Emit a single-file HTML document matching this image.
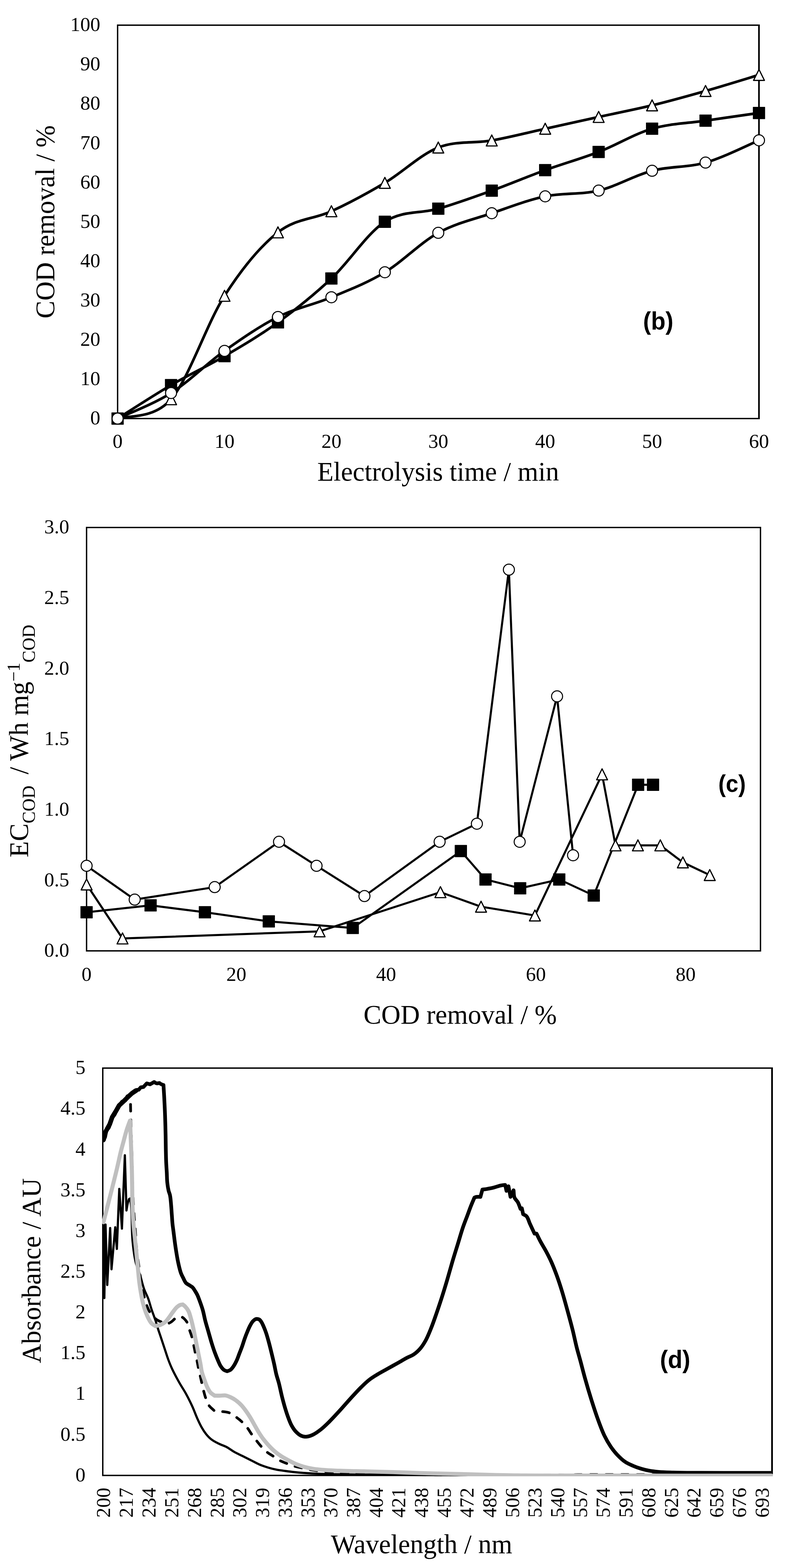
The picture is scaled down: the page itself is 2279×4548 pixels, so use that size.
<!DOCTYPE html>
<html lang="en">
<head>
<meta charset="utf-8">
<title>COD removal, energy consumption and UV-vis spectra</title>
<style>
html,body{margin:0;padding:0;background:#fff;}
body{width:2279px;height:4548px;overflow:hidden;}
svg{display:block;}
text{fill:#000;}
</style>
</head>
<body>
<svg width="2279" height="4548" viewBox="0 0 2279 4548">
<rect x="0" y="0" width="2279" height="4548" fill="#fff"/>
<g id="chart-b">
<rect x="341" y="73" width="1859.7" height="1141" fill="none" stroke="#000" stroke-width="4"/>
<rect x="2198.3" y="71" width="4.7" height="1145" fill="#000"/>
<text x="290.8" y="1231.2" font-family='"Liberation Serif", "DejaVu Serif", serif' font-size="58" font-weight="normal" text-anchor="end" >0</text>
<text x="290.8" y="1117.1" font-family='"Liberation Serif", "DejaVu Serif", serif' font-size="58" font-weight="normal" text-anchor="end" >10</text>
<text x="290.8" y="1003" font-family='"Liberation Serif", "DejaVu Serif", serif' font-size="58" font-weight="normal" text-anchor="end" >20</text>
<text x="290.8" y="888.9" font-family='"Liberation Serif", "DejaVu Serif", serif' font-size="58" font-weight="normal" text-anchor="end" >30</text>
<text x="290.8" y="774.8" font-family='"Liberation Serif", "DejaVu Serif", serif' font-size="58" font-weight="normal" text-anchor="end" >40</text>
<text x="290.8" y="660.7" font-family='"Liberation Serif", "DejaVu Serif", serif' font-size="58" font-weight="normal" text-anchor="end" >50</text>
<text x="290.8" y="546.6" font-family='"Liberation Serif", "DejaVu Serif", serif' font-size="58" font-weight="normal" text-anchor="end" >60</text>
<text x="290.8" y="432.5" font-family='"Liberation Serif", "DejaVu Serif", serif' font-size="58" font-weight="normal" text-anchor="end" >70</text>
<text x="290.8" y="318.4" font-family='"Liberation Serif", "DejaVu Serif", serif' font-size="58" font-weight="normal" text-anchor="end" >80</text>
<text x="290.8" y="204.3" font-family='"Liberation Serif", "DejaVu Serif", serif' font-size="58" font-weight="normal" text-anchor="end" >90</text>
<text x="290.8" y="90.2" font-family='"Liberation Serif", "DejaVu Serif", serif' font-size="58" font-weight="normal" text-anchor="end" >100</text>
<text x="341" y="1299.2" font-family='"Liberation Serif", "DejaVu Serif", serif' font-size="58" font-weight="normal" text-anchor="middle" >0</text>
<text x="651" y="1299.2" font-family='"Liberation Serif", "DejaVu Serif", serif' font-size="58" font-weight="normal" text-anchor="middle" >10</text>
<text x="960.9" y="1299.2" font-family='"Liberation Serif", "DejaVu Serif", serif' font-size="58" font-weight="normal" text-anchor="middle" >20</text>
<text x="1270.8" y="1299.2" font-family='"Liberation Serif", "DejaVu Serif", serif' font-size="58" font-weight="normal" text-anchor="middle" >30</text>
<text x="1580.8" y="1299.2" font-family='"Liberation Serif", "DejaVu Serif", serif' font-size="58" font-weight="normal" text-anchor="middle" >40</text>
<text x="1890.7" y="1299.2" font-family='"Liberation Serif", "DejaVu Serif", serif' font-size="58" font-weight="normal" text-anchor="middle" >50</text>
<text x="2200.7" y="1299.2" font-family='"Liberation Serif", "DejaVu Serif", serif' font-size="58" font-weight="normal" text-anchor="middle" >60</text>
<text x="0" y="0" font-family='"Liberation Serif", "DejaVu Serif", serif' font-size="77.3" font-weight="normal" text-anchor="middle" transform="translate(157 643.5) rotate(-90)">COD removal / %</text>
<text x="1270.4" y="1394" font-family='"Liberation Serif", "DejaVu Serif", serif' font-size="77.2" font-weight="normal" text-anchor="middle" >Electrolysis time / min</text>
<text transform="translate(1908.5 956.2) scale(0.96 1)" font-family='"Liberation Sans", "DejaVu Sans", sans-serif' font-size="72" font-weight="bold" text-anchor="middle">(b)</text>
<path d="M341 1214C366.8 1204.7 444.3 1217.3 496 1158C547.6 1098.7 599.3 938.7 651 858C702.6 777.3 754.3 714.9 805.9 674C857.6 633.1 909.2 636.6 960.9 612.7C1012.6 588.8 1064.2 561.2 1115.9 530.4C1167.5 499.6 1219.2 448.4 1270.8 427.9C1322.5 407.4 1374.2 416.6 1425.8 407.5C1477.5 398.4 1529.1 384.8 1580.8 373.4C1632.5 362 1684.1 350.5 1735.8 339.2C1787.4 327.9 1839.1 318.2 1890.7 305.6C1942.4 293.1 1994.1 278.6 2045.7 263.9C2097.4 249.2 2174.9 225.1 2200.7 217.3" fill="none" stroke="#000" stroke-width="7.7" stroke-linejoin="round" stroke-linecap="round"/>
<path d="M341 1198.1L356.8 1229.9L325.2 1229.9Z" fill="#fff" stroke="#000" stroke-width="3.4" stroke-linejoin="round"/>
<path d="M496 1142.1L511.8 1173.9L480.2 1173.9Z" fill="#fff" stroke="#000" stroke-width="3.4" stroke-linejoin="round"/>
<path d="M651 842.1L666.8 873.9L635.2 873.9Z" fill="#fff" stroke="#000" stroke-width="3.4" stroke-linejoin="round"/>
<path d="M805.9 658.1L821.7 689.9L790.1 689.9Z" fill="#fff" stroke="#000" stroke-width="3.4" stroke-linejoin="round"/>
<path d="M960.9 596.8L976.7 628.6L945.1 628.6Z" fill="#fff" stroke="#000" stroke-width="3.4" stroke-linejoin="round"/>
<path d="M1115.9 514.5L1131.7 546.3L1100.1 546.3Z" fill="#fff" stroke="#000" stroke-width="3.4" stroke-linejoin="round"/>
<path d="M1270.8 412L1286.6 443.8L1255 443.8Z" fill="#fff" stroke="#000" stroke-width="3.4" stroke-linejoin="round"/>
<path d="M1425.8 391.6L1441.6 423.4L1410 423.4Z" fill="#fff" stroke="#000" stroke-width="3.4" stroke-linejoin="round"/>
<path d="M1580.8 357.5L1596.6 389.3L1565 389.3Z" fill="#fff" stroke="#000" stroke-width="3.4" stroke-linejoin="round"/>
<path d="M1735.8 323.3L1751.6 355.1L1720 355.1Z" fill="#fff" stroke="#000" stroke-width="3.4" stroke-linejoin="round"/>
<path d="M1890.7 289.7L1906.5 321.5L1874.9 321.5Z" fill="#fff" stroke="#000" stroke-width="3.4" stroke-linejoin="round"/>
<path d="M2045.7 248L2061.5 279.8L2029.9 279.8Z" fill="#fff" stroke="#000" stroke-width="3.4" stroke-linejoin="round"/>
<path d="M2200.7 201.4L2216.5 233.2L2184.9 233.2Z" fill="#fff" stroke="#000" stroke-width="3.4" stroke-linejoin="round"/>
<path d="M341 1214C366.8 1197.8 444.3 1147.2 496 1117C547.6 1086.8 599.3 1063.3 651 1033C702.6 1002.7 754.3 972.5 805.9 935C857.6 897.5 909.2 856.5 960.9 807.9C1012.6 759.3 1064.2 677 1115.9 643.3C1167.5 609.5 1219.2 620.4 1270.8 605.4C1322.5 590.4 1374.2 571.6 1425.8 553C1477.5 534.4 1529.1 512.2 1580.8 493.5C1632.5 474.8 1684.1 460.7 1735.8 440.7C1787.4 420.7 1839.1 388.5 1890.7 373.4C1942.4 358.3 1994.1 357.6 2045.7 350C2097.4 342.4 2174.9 331.3 2200.7 327.6" fill="none" stroke="#000" stroke-width="7.7" stroke-linejoin="round" stroke-linecap="round"/>
<rect x="323.2" y="1196.2" width="35.5" height="35.5" rx="1" fill="#000"/>
<rect x="478.2" y="1099.2" width="35.5" height="35.5" rx="1" fill="#000"/>
<rect x="633.2" y="1015.2" width="35.5" height="35.5" rx="1" fill="#000"/>
<rect x="788.2" y="917.2" width="35.5" height="35.5" rx="1" fill="#000"/>
<rect x="943.1" y="790.1" width="35.5" height="35.5" rx="1" fill="#000"/>
<rect x="1098.1" y="625.5" width="35.5" height="35.5" rx="1" fill="#000"/>
<rect x="1253.1" y="587.6" width="35.5" height="35.5" rx="1" fill="#000"/>
<rect x="1408.1" y="535.2" width="35.5" height="35.5" rx="1" fill="#000"/>
<rect x="1563" y="475.8" width="35.5" height="35.5" rx="1" fill="#000"/>
<rect x="1718" y="422.9" width="35.5" height="35.5" rx="1" fill="#000"/>
<rect x="1873" y="355.6" width="35.5" height="35.5" rx="1" fill="#000"/>
<rect x="2028" y="332.2" width="35.5" height="35.5" rx="1" fill="#000"/>
<rect x="2182.9" y="309.9" width="35.5" height="35.5" rx="1" fill="#000"/>
<path d="M341 1214C366.8 1201.7 444.3 1172.7 496 1140C547.6 1107.3 599.3 1054.5 651 1017.7C702.6 980.9 754.3 945.3 805.9 919.4C857.6 893.5 909.2 883.8 960.9 862.2C1012.6 840.6 1064.2 820.9 1115.9 789.7C1167.5 758.6 1219.2 703.8 1270.8 675.3C1322.5 646.8 1374.2 636.1 1425.8 618.5C1477.5 600.9 1529.1 580.5 1580.8 569.5C1632.5 558.5 1684.1 565.2 1735.8 552.8C1787.4 540.4 1839.1 508.8 1890.7 495.3C1942.4 481.8 1994.1 486.3 2045.7 471.6C2097.4 456.9 2174.9 417.8 2200.7 407" fill="none" stroke="#000" stroke-width="7.7" stroke-linejoin="round" stroke-linecap="round"/>
<circle cx="341" cy="1214" r="16" fill="#fff" stroke="#000" stroke-width="3"/>
<circle cx="496" cy="1140" r="16" fill="#fff" stroke="#000" stroke-width="3"/>
<circle cx="651" cy="1017.7" r="16" fill="#fff" stroke="#000" stroke-width="3"/>
<circle cx="805.9" cy="919.4" r="16" fill="#fff" stroke="#000" stroke-width="3"/>
<circle cx="960.9" cy="862.2" r="16" fill="#fff" stroke="#000" stroke-width="3"/>
<circle cx="1115.9" cy="789.7" r="16" fill="#fff" stroke="#000" stroke-width="3"/>
<circle cx="1270.8" cy="675.3" r="16" fill="#fff" stroke="#000" stroke-width="3"/>
<circle cx="1425.8" cy="618.5" r="16" fill="#fff" stroke="#000" stroke-width="3"/>
<circle cx="1580.8" cy="569.5" r="16" fill="#fff" stroke="#000" stroke-width="3"/>
<circle cx="1735.8" cy="552.8" r="16" fill="#fff" stroke="#000" stroke-width="3"/>
<circle cx="1890.7" cy="495.3" r="16" fill="#fff" stroke="#000" stroke-width="3"/>
<circle cx="2045.7" cy="471.6" r="16" fill="#fff" stroke="#000" stroke-width="3"/>
<circle cx="2200.7" cy="407" r="16" fill="#fff" stroke="#000" stroke-width="3"/>
</g>
<g id="chart-c">
<rect x="251" y="1530" width="1954" height="1228" fill="none" stroke="#000" stroke-width="4"/>
<text x="200.8" y="2775.2" font-family='"Liberation Serif", "DejaVu Serif", serif' font-size="58" font-weight="normal" text-anchor="end" >0.0</text>
<text x="200.8" y="2570.5" font-family='"Liberation Serif", "DejaVu Serif", serif' font-size="58" font-weight="normal" text-anchor="end" >0.5</text>
<text x="200.8" y="2365.9" font-family='"Liberation Serif", "DejaVu Serif", serif' font-size="58" font-weight="normal" text-anchor="end" >1.0</text>
<text x="200.8" y="2161.2" font-family='"Liberation Serif", "DejaVu Serif", serif' font-size="58" font-weight="normal" text-anchor="end" >1.5</text>
<text x="200.8" y="1956.5" font-family='"Liberation Serif", "DejaVu Serif", serif' font-size="58" font-weight="normal" text-anchor="end" >2.0</text>
<text x="200.8" y="1751.9" font-family='"Liberation Serif", "DejaVu Serif", serif' font-size="58" font-weight="normal" text-anchor="end" >2.5</text>
<text x="200.8" y="1547.2" font-family='"Liberation Serif", "DejaVu Serif", serif' font-size="58" font-weight="normal" text-anchor="end" >3.0</text>
<text x="251" y="2845" font-family='"Liberation Serif", "DejaVu Serif", serif' font-size="58" font-weight="normal" text-anchor="middle" >0</text>
<text x="685.2" y="2845" font-family='"Liberation Serif", "DejaVu Serif", serif' font-size="58" font-weight="normal" text-anchor="middle" >20</text>
<text x="1119.4" y="2845" font-family='"Liberation Serif", "DejaVu Serif", serif' font-size="58" font-weight="normal" text-anchor="middle" >40</text>
<text x="1553.7" y="2845" font-family='"Liberation Serif", "DejaVu Serif", serif' font-size="58" font-weight="normal" text-anchor="middle" >60</text>
<text x="1987.9" y="2845" font-family='"Liberation Serif", "DejaVu Serif", serif' font-size="58" font-weight="normal" text-anchor="middle" >80</text>
<text xml:space="preserve" style="white-space:pre" font-family='"Liberation Serif", "DejaVu Serif", serif' font-size="77.3" text-anchor="start" transform="translate(81 2487) rotate(-90)">EC<tspan font-size="52" dy="20">COD </tspan><tspan dy="-20"> / Wh mg</tspan><tspan font-size="52" dy="-24">−1</tspan><tspan font-size="52" dy="44">COD</tspan></text>
<text x="1334.2" y="2969.3" font-family='"Liberation Serif", "DejaVu Serif", serif' font-size="77.3" font-weight="normal" text-anchor="middle" >COD removal / %</text>
<text transform="translate(2122.6 2297.3) scale(0.92 1)" font-family='"Liberation Sans", "DejaVu Sans", sans-serif' font-size="71" font-weight="bold" text-anchor="middle">(c)</text>
<path d="M251.1 2646L436.6 2626.1L594.1 2646L779.4 2672.5L1022.8 2691.6L1336.3 2468.6L1407.8 2550.9L1508.2 2576.4L1621.6 2550.9L1721.5 2597.4L1850.2 2276.3L1893.4 2276.3" fill="none" stroke="#000" stroke-width="6.0" stroke-linejoin="round" stroke-linecap="round"/>
<rect x="233.3" y="2628.2" width="35.5" height="35.5" rx="1" fill="#000"/>
<rect x="418.9" y="2608.3" width="35.5" height="35.5" rx="1" fill="#000"/>
<rect x="576.4" y="2628.2" width="35.5" height="35.5" rx="1" fill="#000"/>
<rect x="761.6" y="2654.8" width="35.5" height="35.5" rx="1" fill="#000"/>
<rect x="1005" y="2673.8" width="35.5" height="35.5" rx="1" fill="#000"/>
<rect x="1318.5" y="2450.8" width="35.5" height="35.5" rx="1" fill="#000"/>
<rect x="1390" y="2533.2" width="35.5" height="35.5" rx="1" fill="#000"/>
<rect x="1490.5" y="2558.7" width="35.5" height="35.5" rx="1" fill="#000"/>
<rect x="1603.8" y="2533.2" width="35.5" height="35.5" rx="1" fill="#000"/>
<rect x="1703.8" y="2579.7" width="35.5" height="35.5" rx="1" fill="#000"/>
<rect x="1832.5" y="2258.6" width="35.5" height="35.5" rx="1" fill="#000"/>
<rect x="1875.7" y="2258.6" width="35.5" height="35.5" rx="1" fill="#000"/>
<path d="M251.1 2565.4L355.2 2722L926.6 2701.4L1277 2587.7L1394.8 2629.9L1551 2655.4L1745.7 2246L1784.6 2452L1849.6 2452L1914.6 2452L1980 2501.3L2057.9 2538.1" fill="none" stroke="#000" stroke-width="6.0" stroke-linejoin="round" stroke-linecap="round"/>
<path d="M251.1 2549.5L266.9 2581.3L235.3 2581.3Z" fill="#fff" stroke="#000" stroke-width="3.4" stroke-linejoin="round"/>
<path d="M355.2 2706.1L371 2737.9L339.4 2737.9Z" fill="#fff" stroke="#000" stroke-width="3.4" stroke-linejoin="round"/>
<path d="M926.6 2685.5L942.4 2717.3L910.8 2717.3Z" fill="#fff" stroke="#000" stroke-width="3.4" stroke-linejoin="round"/>
<path d="M1277 2571.8L1292.8 2603.6L1261.2 2603.6Z" fill="#fff" stroke="#000" stroke-width="3.4" stroke-linejoin="round"/>
<path d="M1394.8 2614L1410.6 2645.8L1379 2645.8Z" fill="#fff" stroke="#000" stroke-width="3.4" stroke-linejoin="round"/>
<path d="M1551 2639.5L1566.8 2671.3L1535.2 2671.3Z" fill="#fff" stroke="#000" stroke-width="3.4" stroke-linejoin="round"/>
<path d="M1745.7 2230.1L1761.5 2261.9L1729.9 2261.9Z" fill="#fff" stroke="#000" stroke-width="3.4" stroke-linejoin="round"/>
<path d="M1784.6 2436.1L1800.4 2467.9L1768.8 2467.9Z" fill="#fff" stroke="#000" stroke-width="3.4" stroke-linejoin="round"/>
<path d="M1849.6 2436.1L1865.4 2467.9L1833.8 2467.9Z" fill="#fff" stroke="#000" stroke-width="3.4" stroke-linejoin="round"/>
<path d="M1914.6 2436.1L1930.4 2467.9L1898.8 2467.9Z" fill="#fff" stroke="#000" stroke-width="3.4" stroke-linejoin="round"/>
<path d="M1980 2485.4L1995.8 2517.2L1964.2 2517.2Z" fill="#fff" stroke="#000" stroke-width="3.4" stroke-linejoin="round"/>
<path d="M2057.9 2522.2L2073.7 2554L2042.1 2554Z" fill="#fff" stroke="#000" stroke-width="3.4" stroke-linejoin="round"/>
<path d="M251.1 2511.3L390.5 2609.3L622.5 2573.1L809 2441.6L917.8 2511.3L1056.7 2599.1L1274.7 2441.6L1382.7 2389.2L1475.5 1652.3L1506.8 2441.7L1615.2 2019.8L1661.6 2480.7" fill="none" stroke="#000" stroke-width="6.0" stroke-linejoin="round" stroke-linecap="round"/>
<circle cx="251.1" cy="2511.3" r="16" fill="#fff" stroke="#000" stroke-width="3"/>
<circle cx="390.5" cy="2609.3" r="16" fill="#fff" stroke="#000" stroke-width="3"/>
<circle cx="622.5" cy="2573.1" r="16" fill="#fff" stroke="#000" stroke-width="3"/>
<circle cx="809" cy="2441.6" r="16" fill="#fff" stroke="#000" stroke-width="3"/>
<circle cx="917.8" cy="2511.3" r="16" fill="#fff" stroke="#000" stroke-width="3"/>
<circle cx="1056.7" cy="2599.1" r="16" fill="#fff" stroke="#000" stroke-width="3"/>
<circle cx="1274.7" cy="2441.6" r="16" fill="#fff" stroke="#000" stroke-width="3"/>
<circle cx="1382.7" cy="2389.2" r="16" fill="#fff" stroke="#000" stroke-width="3"/>
<circle cx="1475.5" cy="1652.3" r="16" fill="#fff" stroke="#000" stroke-width="3"/>
<circle cx="1506.8" cy="2441.7" r="16" fill="#fff" stroke="#000" stroke-width="3"/>
<circle cx="1615.2" cy="2019.8" r="16" fill="#fff" stroke="#000" stroke-width="3"/>
<circle cx="1661.6" cy="2480.7" r="16" fill="#fff" stroke="#000" stroke-width="3"/>
</g>
<g id="chart-d">
<clipPath id="clipd"><rect x="296" y="3096" width="1945" height="1186"/></clipPath>
<text x="247.8" y="4296.7" font-family='"Liberation Serif", "DejaVu Serif", serif' font-size="58" font-weight="normal" text-anchor="end" >0</text>
<text x="247.8" y="4178.6" font-family='"Liberation Serif", "DejaVu Serif", serif' font-size="58" font-weight="normal" text-anchor="end" >0.5</text>
<text x="247.8" y="4060.4" font-family='"Liberation Serif", "DejaVu Serif", serif' font-size="58" font-weight="normal" text-anchor="end" >1</text>
<text x="247.8" y="3942.2" font-family='"Liberation Serif", "DejaVu Serif", serif' font-size="58" font-weight="normal" text-anchor="end" >1.5</text>
<text x="247.8" y="3824.1" font-family='"Liberation Serif", "DejaVu Serif", serif' font-size="58" font-weight="normal" text-anchor="end" >2</text>
<text x="247.8" y="3705.9" font-family='"Liberation Serif", "DejaVu Serif", serif' font-size="58" font-weight="normal" text-anchor="end" >2.5</text>
<text x="247.8" y="3587.8" font-family='"Liberation Serif", "DejaVu Serif", serif' font-size="58" font-weight="normal" text-anchor="end" >3</text>
<text x="247.8" y="3469.6" font-family='"Liberation Serif", "DejaVu Serif", serif' font-size="58" font-weight="normal" text-anchor="end" >3.5</text>
<text x="247.8" y="3351.5" font-family='"Liberation Serif", "DejaVu Serif", serif' font-size="58" font-weight="normal" text-anchor="end" >4</text>
<text x="247.8" y="3233.3" font-family='"Liberation Serif", "DejaVu Serif", serif' font-size="58" font-weight="normal" text-anchor="end" >4.5</text>
<text x="247.8" y="3115.2" font-family='"Liberation Serif", "DejaVu Serif", serif' font-size="58" font-weight="normal" text-anchor="end" >5</text>
<text x="0" y="0" font-family='"Liberation Serif", "DejaVu Serif", serif' font-size="58" font-weight="normal" text-anchor="end" transform="translate(319.3 4315) rotate(-90)">200</text>
<text x="0" y="0" font-family='"Liberation Serif", "DejaVu Serif", serif' font-size="58" font-weight="normal" text-anchor="end" transform="translate(385.2 4315) rotate(-90)">217</text>
<text x="0" y="0" font-family='"Liberation Serif", "DejaVu Serif", serif' font-size="58" font-weight="normal" text-anchor="end" transform="translate(451 4315) rotate(-90)">234</text>
<text x="0" y="0" font-family='"Liberation Serif", "DejaVu Serif", serif' font-size="58" font-weight="normal" text-anchor="end" transform="translate(516.9 4315) rotate(-90)">251</text>
<text x="0" y="0" font-family='"Liberation Serif", "DejaVu Serif", serif' font-size="58" font-weight="normal" text-anchor="end" transform="translate(582.7 4315) rotate(-90)">268</text>
<text x="0" y="0" font-family='"Liberation Serif", "DejaVu Serif", serif' font-size="58" font-weight="normal" text-anchor="end" transform="translate(648.6 4315) rotate(-90)">285</text>
<text x="0" y="0" font-family='"Liberation Serif", "DejaVu Serif", serif' font-size="58" font-weight="normal" text-anchor="end" transform="translate(714.4 4315) rotate(-90)">302</text>
<text x="0" y="0" font-family='"Liberation Serif", "DejaVu Serif", serif' font-size="58" font-weight="normal" text-anchor="end" transform="translate(780.3 4315) rotate(-90)">319</text>
<text x="0" y="0" font-family='"Liberation Serif", "DejaVu Serif", serif' font-size="58" font-weight="normal" text-anchor="end" transform="translate(846.1 4315) rotate(-90)">336</text>
<text x="0" y="0" font-family='"Liberation Serif", "DejaVu Serif", serif' font-size="58" font-weight="normal" text-anchor="end" transform="translate(912 4315) rotate(-90)">353</text>
<text x="0" y="0" font-family='"Liberation Serif", "DejaVu Serif", serif' font-size="58" font-weight="normal" text-anchor="end" transform="translate(977.8 4315) rotate(-90)">370</text>
<text x="0" y="0" font-family='"Liberation Serif", "DejaVu Serif", serif' font-size="58" font-weight="normal" text-anchor="end" transform="translate(1043.6 4315) rotate(-90)">387</text>
<text x="0" y="0" font-family='"Liberation Serif", "DejaVu Serif", serif' font-size="58" font-weight="normal" text-anchor="end" transform="translate(1109.5 4315) rotate(-90)">404</text>
<text x="0" y="0" font-family='"Liberation Serif", "DejaVu Serif", serif' font-size="58" font-weight="normal" text-anchor="end" transform="translate(1175.3 4315) rotate(-90)">421</text>
<text x="0" y="0" font-family='"Liberation Serif", "DejaVu Serif", serif' font-size="58" font-weight="normal" text-anchor="end" transform="translate(1241.2 4315) rotate(-90)">438</text>
<text x="0" y="0" font-family='"Liberation Serif", "DejaVu Serif", serif' font-size="58" font-weight="normal" text-anchor="end" transform="translate(1307 4315) rotate(-90)">455</text>
<text x="0" y="0" font-family='"Liberation Serif", "DejaVu Serif", serif' font-size="58" font-weight="normal" text-anchor="end" transform="translate(1372.9 4315) rotate(-90)">472</text>
<text x="0" y="0" font-family='"Liberation Serif", "DejaVu Serif", serif' font-size="58" font-weight="normal" text-anchor="end" transform="translate(1438.7 4315) rotate(-90)">489</text>
<text x="0" y="0" font-family='"Liberation Serif", "DejaVu Serif", serif' font-size="58" font-weight="normal" text-anchor="end" transform="translate(1504.6 4315) rotate(-90)">506</text>
<text x="0" y="0" font-family='"Liberation Serif", "DejaVu Serif", serif' font-size="58" font-weight="normal" text-anchor="end" transform="translate(1570.4 4315) rotate(-90)">523</text>
<text x="0" y="0" font-family='"Liberation Serif", "DejaVu Serif", serif' font-size="58" font-weight="normal" text-anchor="end" transform="translate(1636.3 4315) rotate(-90)">540</text>
<text x="0" y="0" font-family='"Liberation Serif", "DejaVu Serif", serif' font-size="58" font-weight="normal" text-anchor="end" transform="translate(1702.1 4315) rotate(-90)">557</text>
<text x="0" y="0" font-family='"Liberation Serif", "DejaVu Serif", serif' font-size="58" font-weight="normal" text-anchor="end" transform="translate(1768 4315) rotate(-90)">574</text>
<text x="0" y="0" font-family='"Liberation Serif", "DejaVu Serif", serif' font-size="58" font-weight="normal" text-anchor="end" transform="translate(1833.8 4315) rotate(-90)">591</text>
<text x="0" y="0" font-family='"Liberation Serif", "DejaVu Serif", serif' font-size="58" font-weight="normal" text-anchor="end" transform="translate(1899.6 4315) rotate(-90)">608</text>
<text x="0" y="0" font-family='"Liberation Serif", "DejaVu Serif", serif' font-size="58" font-weight="normal" text-anchor="end" transform="translate(1965.5 4315) rotate(-90)">625</text>
<text x="0" y="0" font-family='"Liberation Serif", "DejaVu Serif", serif' font-size="58" font-weight="normal" text-anchor="end" transform="translate(2031.3 4315) rotate(-90)">642</text>
<text x="0" y="0" font-family='"Liberation Serif", "DejaVu Serif", serif' font-size="58" font-weight="normal" text-anchor="end" transform="translate(2097.2 4315) rotate(-90)">659</text>
<text x="0" y="0" font-family='"Liberation Serif", "DejaVu Serif", serif' font-size="58" font-weight="normal" text-anchor="end" transform="translate(2163 4315) rotate(-90)">676</text>
<text x="0" y="0" font-family='"Liberation Serif", "DejaVu Serif", serif' font-size="58" font-weight="normal" text-anchor="end" transform="translate(2228.9 4315) rotate(-90)">693</text>
<text x="0" y="0" font-family='"Liberation Serif", "DejaVu Serif", serif' font-size="77.3" font-weight="normal" text-anchor="middle" transform="translate(117 3685.7) rotate(-90)">Absorbance / AU</text>
<text x="1222.2" y="4505" font-family='"Liberation Serif", "DejaVu Serif", serif' font-size="77.3" font-weight="normal" text-anchor="middle" >Wavelength / nm</text>
<text transform="translate(1957.5 3968.2) scale(0.96 1)" font-family='"Liberation Sans", "DejaVu Sans", sans-serif' font-size="72" font-weight="bold" text-anchor="middle">(d)</text>
<rect x="298" y="3098" width="1940.5" height="1181.5" fill="none" stroke="#000" stroke-width="4"/>
<rect x="2236" y="3096" width="5" height="1186" fill="#000"/>
<g clip-path="url(#clipd)" fill="none" stroke-linejoin="round" stroke-linecap="round">
<path d="M300 3308C300.5 3306.7 300.9 3305.3 301.5 3304C302.4 3302 303.8 3300.3 304.5 3298.2C306.5 3292 306.4 3285.3 307.4 3278.8C310 3276.2 313.3 3274.2 315.2 3271C318.6 3265.2 318.5 3257.9 321 3251.7C322.6 3247.7 324.5 3243.8 326.8 3240.1C328.5 3237.3 331 3235.1 332.6 3232.3C335.6 3226.9 336.2 3220.2 339.4 3214.9C341.2 3212 344.1 3209.8 346.2 3207.1C349 3203.4 351.3 3199.4 353.9 3195.5L363.6 3191.7L369.4 3180C372 3178.7 374.8 3177.9 377.1 3176.2C380.1 3174.1 382.1 3170.8 384.9 3168.4C387.3 3166.3 389.7 3163.9 392.6 3162.6C395.6 3161.3 399.1 3161.3 402.3 3160.7L408.1 3153.9L415.9 3152.9L425.6 3142.3L435.2 3145.2L446.9 3138.4C449.5 3139.7 451.8 3141.8 454.6 3142.3C457.2 3142.7 459.7 3141.6 462.3 3141.3C464.3 3142.6 466.1 3144.2 468.2 3145.2C470 3146.1 472.1 3146.5 474 3147.1C474.6 3157.4 475.3 3167.8 475.9 3178.1C476.9 3197.5 477.9 3216.8 478.6 3236.2C479.3 3255.6 479.8 3274.9 480.2 3294.3C480.4 3306.2 480.5 3318.1 480.7 3330C481 3342.9 481.2 3355.8 481.7 3368.7C482.1 3379 482.9 3389.4 483.5 3399.7C484.1 3410 484 3420.4 485.1 3430.7C485.9 3438.5 487.1 3446.3 488.9 3453.9C489.9 3458.1 491.9 3462.1 492.8 3466.3C494.7 3475 495.1 3483.9 495.9 3492.7C496.9 3503 497.4 3513.4 498.2 3523.7C498.9 3532.5 499.3 3541.3 500.2 3550C500.9 3557 502 3564 502.9 3571C504.2 3581.3 505.4 3591.7 506.8 3602C508.2 3612.3 509.7 3622.7 511.4 3633C512.8 3641.8 514.3 3650.6 516.1 3659.3C517.5 3666 519 3672.8 520.7 3679.4C521.9 3683.8 523 3688.3 524.6 3692.6C526.5 3697.7 529 3702.5 531.5 3707.3C533.9 3712.1 535.7 3717.4 539.3 3721.3C541.8 3724 545.5 3725.4 548.6 3727.5C551.7 3729.6 555.2 3731.1 557.9 3733.7C561.1 3736.8 563.2 3740.8 565.6 3744.5C568.1 3748.5 570.6 3752.6 572.6 3756.9C574.9 3761.8 576.6 3766.9 578.5 3772C581.9 3781.2 585.3 3790.5 588 3799.9C590.8 3809.8 592.4 3820.1 595 3830.1C597.8 3841 601.2 3851.8 604.3 3862.7C607.4 3873.5 610.3 3884.4 613.6 3895.2C616.5 3904.6 619.5 3913.9 622.9 3923.1C625.8 3930.9 628.9 3938.7 632.2 3946.3C634.6 3951.8 636.7 3957.6 640 3962.7C642.6 3966.7 645.5 3970.7 649.3 3973.5C652 3975.5 655.5 3976.1 658.6 3977.4C661.7 3976.1 665.2 3975.5 667.9 3973.5C671.7 3970.7 674.5 3966.6 677.2 3962.7C680.9 3957.4 683.8 3951.5 686.5 3945.6C689.5 3939.1 691.6 3932.2 694.2 3925.5C696.8 3918.8 699.6 3912.1 702 3905.3C704.8 3897.6 706.9 3889.8 709.7 3882.1C712.1 3875.3 714.7 3868.6 717.5 3862C719.9 3856.2 722.2 3850.4 725.2 3844.9C727.5 3840.6 729.8 3836.1 733 3832.5C735.2 3830 737.7 3827.6 740.7 3826.3C742.1 3825.7 743.8 3825.5 745.3 3825.6C747.4 3825.7 749.7 3826 751.5 3827.1C754.2 3828.7 756 3831.5 757.7 3834.1C760.3 3837.9 762 3842.3 763.9 3846.5C766.8 3853.1 769.4 3859.8 771.7 3866.6C774.6 3875.3 777 3884.2 779.4 3893C782.2 3903.3 784.7 3913.6 787.2 3923.9C789.8 3934.7 792.5 3945.6 794.9 3956.5C797.1 3966.3 798.7 3976.2 801.1 3985.9C803.2 3994.4 806.2 4002.6 808.4 4011C811.9 4024.3 814.3 4037.9 817.7 4051.3C820.6 4062.7 823.6 4074.1 827 4085.3C829.8 4094.7 832.8 4104 836.3 4113.2C839.1 4120.6 841.8 4128 845.6 4134.9C848.9 4140.8 852.5 4146.7 857.1 4151.7C861.6 4156.5 866.6 4161.3 872.6 4164.1C877.4 4166.3 882.8 4167.4 888.1 4167.2C894.8 4166.9 901.4 4164.3 907.5 4161.4C915.9 4157.4 923.4 4151.6 930.7 4145.9C939 4139.4 946.4 4132 953.9 4124.6C964.6 4114 974.7 4102.8 984.9 4091.7C995.4 4080.2 1005.4 4068.4 1015.9 4056.9C1026.1 4045.8 1036.2 4034.5 1046.9 4023.9C1054.4 4016.5 1061.8 4009.1 1070.1 4002.6C1077.4 3996.8 1085.4 3992 1093.4 3987.1C1103.5 3980.9 1114 3975.5 1124.3 3969.7C1134.6 3963.9 1145 3958.1 1155.3 3952.3C1163.5 3947.7 1171.6 3942.7 1180 3938.3C1186.4 3934.9 1193.4 3932.8 1199.4 3928.7C1206.6 3923.8 1213 3917.8 1218.7 3911.2C1224.8 3904.2 1229.7 3896.1 1234.2 3888C1240.3 3876.9 1244.9 3864.9 1249.7 3853.1C1255.4 3839.1 1260.2 3824.8 1265.2 3810.5C1270.6 3795.1 1275.7 3779.6 1280.7 3764.1C1286.1 3747.4 1291.2 3730.6 1296.2 3713.7C1301.5 3695.7 1306.4 3677.5 1311.7 3659.5C1316.7 3642.6 1322 3625.9 1327.2 3609.1C1332.4 3592.3 1337 3575.4 1342.7 3558.8C1346.3 3548.4 1350.4 3538.1 1354.3 3527.8C1358.2 3517.5 1361.8 3507.1 1365.9 3496.8C1369 3489 1372.4 3481.3 1375.6 3473.6C1377.5 3472.9 1379.4 3471.9 1381.4 3471.6C1385.2 3471 1389.1 3471.6 1393 3471.6L1398.8 3450.3C1403.3 3449.7 1407.9 3449.2 1412.4 3448.4C1418.9 3447.3 1425.4 3446.1 1431.8 3444.5C1438.3 3442.9 1444.5 3440.1 1451.1 3438.7C1455.6 3437.7 1460.2 3437.4 1464.7 3436.8L1468.5 3454.2L1474.3 3440.7L1480.2 3471.6L1489.1 3452.3C1490 3459.4 1489.2 3466.9 1491.8 3473.6C1493.8 3478.8 1498.8 3482.2 1501.5 3487.1C1504.8 3493.2 1506.6 3500 1509.2 3506.5L1513.1 3504.6L1516.9 3522C1520.1 3523.9 1524.1 3525 1526.6 3527.8C1531.8 3533.6 1533 3542 1536.3 3549.1C1540.8 3558.8 1545.4 3568.5 1549.9 3578.2L1555.7 3578.2C1559.6 3585.9 1563.2 3593.8 1567.3 3601.4C1572.2 3610.6 1577.9 3619.3 1582.8 3628.5C1588.3 3638.7 1593.6 3649 1598.3 3659.5C1604 3672.2 1609 3685.2 1613.8 3698.2C1619.4 3713.5 1624.5 3729.1 1629.3 3744.7C1634.8 3762.6 1639.7 3780.8 1644.7 3798.9C1650 3818.2 1655.3 3837.6 1660.2 3857C1664.4 3873.7 1667.7 3890.7 1671.9 3907.4C1675.5 3921.7 1679.8 3935.8 1683.6 3950C1687.7 3965.4 1691.5 3980.9 1695.8 3996.2C1701.9 4018 1708.3 4039.7 1715.1 4061.3C1721 4080 1727 4098.6 1733.7 4117C1739.4 4132.7 1745 4148.5 1752.2 4163.5C1757.6 4174.7 1763.8 4185.7 1770.8 4196C1776.4 4204.2 1782.6 4212.1 1789.4 4219.3C1796.6 4226.9 1804.1 4234.3 1812.7 4240.2C1819.8 4245.1 1828 4248.4 1835.9 4251.8C1843.5 4255 1851.2 4257.8 1859.1 4260.2C1866.8 4262.5 1874.5 4264.4 1882.4 4265.8C1891.6 4267.5 1901 4268.5 1910.3 4269.3C1924.2 4270.5 1938.2 4270.6 1952.1 4271C1975.3 4271.6 1998.6 4271.7 2021.8 4271.9C2093.4 4272.4 2165 4272 2236.6 4272" stroke="#000" stroke-width="10.7"/>
<path d="M300.1 3306.1L307.1 3280.9L318.2 3260.8L325.2 3240.6L336.3 3222.5L345.4 3206.4L360.5 3192.3L372.6 3180.2L382.6 3171.1L394.7 3163.1" stroke="#000" stroke-width="13.4"/>
<path d="M300 3551L302.5 3765L306 3552L311 3727L319.4 3562L323.3 3681.5L334.2 3559.6L338.8 3622.4L345.8 3448.4L353.5 3563.5L362 3351L366.7 3511C367.8 3504.7 368.6 3498.3 370 3492C371.1 3487.3 372.6 3482.7 373.9 3478L377.8 3476C378.8 3485.7 380 3495.3 380.7 3505C382.9 3536.6 381.4 3568.5 384.4 3600C386.4 3621.5 388.8 3643.1 394.1 3664C396.7 3674.3 401.7 3683.9 405 3694C409.7 3708.5 412.4 3723.6 417.5 3738C421 3748 426.3 3757.4 430 3767.4C433.6 3777.3 436 3787.6 439.3 3797.6C442.9 3808.5 447.3 3819.2 450.9 3830.1C453.4 3837.8 455.4 3845.7 457.9 3853.4C460.1 3860.4 462.6 3867.3 464.9 3874.3C468.8 3885.9 472.6 3897.6 476.5 3909.2C480.4 3920.8 483.8 3932.5 488.1 3944C491.6 3953.4 495.4 3962.8 499.7 3971.9C506 3985.2 513.1 3998.2 520.3 4011C526.2 4021.5 533.1 4031.4 538.9 4042C545.6 4054.1 551.7 4066.5 557.5 4079.1C563.1 4091.3 567.4 4104.1 573 4116.3C576.8 4124.7 580.7 4133.1 585.3 4141.1C589 4147.6 593 4153.9 597.7 4159.7C602.3 4165.4 607.4 4170.8 613.2 4175.2C619.8 4180.3 627.4 4183.9 634.9 4187.6C641.9 4191.1 649.6 4193.2 656.6 4196.9C664.2 4200.9 670.8 4206.6 678.3 4210.8C686.3 4215.4 694.8 4219.1 703.1 4223.2C711.4 4227.3 719.6 4231.5 727.9 4235.6C736.2 4239.7 744.2 4244.4 752.7 4248C760.7 4251.4 769 4254.2 777.4 4256.7C785.6 4259.2 793.8 4261.2 802.2 4262.9C810.4 4264.5 818.7 4265.5 827 4266.6C835.3 4267.7 843.5 4268.8 851.8 4269.7C861.2 4270.7 870.6 4271.6 880 4272.2C903.3 4273.8 926.7 4274.8 950 4275.5C1000 4277 1050 4277.1 1100 4277.5C1233.3 4278.6 1366.7 4278.7 1500 4279C1745.5 4279.5 1991.1 4279.3 2236.6 4279.5" stroke="#000" stroke-width="6.4"/>
<path d="M378.5 3203.3C378.8 3220.5 379.1 3237.8 379.5 3255C379.8 3265.3 380.2 3275.7 380.5 3286C381.6 3320.7 382.9 3355.3 383.8 3390C384.5 3416.7 384.4 3443.3 385.5 3470C386.3 3489.4 387.6 3508.7 389 3528C390 3542.7 391.5 3557.3 392.6 3572C394.1 3591 394.8 3610 396.8 3629C398.4 3644.1 400.7 3659 402.8 3674C404 3682.7 405.2 3691.3 406.5 3700C408.5 3713.4 410.3 3726.8 413 3740C414.7 3748.4 416.8 3756.7 419 3765C420.8 3771.7 422.6 3778.5 425 3785C427.7 3792.2 430.6 3799.4 434.5 3806C437.5 3811 441 3815.7 445 3820C447.1 3822.2 449.5 3824.2 452 3826C454.5 3827.9 457.2 3829.5 460 3831C462.2 3832.2 464.7 3832.9 467 3834C470.8 3835.9 474.3 3838.3 478 3840.5C481.4 3839.9 485 3839.8 488.3 3838.6C491.6 3837.4 494.6 3835.6 497.4 3833.6C501.2 3830.9 504.1 3827 507.9 3824.3C510.7 3822.2 513.6 3819.8 517 3819C520.1 3818.3 523.4 3818.6 526.4 3819.7C529.6 3820.8 532.2 3823.2 534.6 3825.5C537.8 3828.6 540.6 3832.1 542.7 3836C546.3 3842.8 547.3 3850.7 549.7 3858C552 3865 554.7 3871.8 556.7 3878.9C558.6 3885.8 559.8 3892.9 561.3 3899.9C562.9 3907.6 564.4 3915.4 566 3923.1C567.5 3930.1 569.1 3937 570.6 3944C572.2 3951.7 573.6 3959.6 575.2 3967.3C576.7 3974.3 578.3 3981.2 579.9 3988.2C581.6 3995.8 583.3 4003.4 585 4011C586.6 4018.2 588.1 4025.5 590 4032.7C591.9 4040 593.7 4047.3 596.2 4054.4C598.8 4061.8 601.1 4069.5 605.5 4076C609.6 4082 615.8 4086.3 621 4091.5C628.2 4092.3 635.5 4093 642.7 4094C650 4095 657.5 4095.1 664.4 4097.7C671.8 4100.5 678.1 4105.5 684.5 4110.1C690.5 4114.4 696.2 4119 701.5 4124.1C707.1 4129.4 712.3 4135.1 717 4141.1C721.6 4147 725.1 4153.6 729.4 4159.7C733.9 4166 738.6 4172.2 743.4 4178.3C747.9 4184.1 752.4 4189.9 757.3 4195.3C762.2 4200.7 767.1 4206.2 772.8 4210.8C778.6 4215.5 785.2 4219.1 791.4 4223.2C797.6 4227.3 803.4 4232.1 810 4235.6C816.9 4239.3 824.4 4242 831.7 4244.9C838.9 4247.7 846 4250.5 853.4 4252.7C860 4254.6 866.8 4255.8 873.5 4257.3C882.3 4259.3 891.1 4261.5 900 4263C916.6 4265.8 933.3 4267.5 950 4269C966.6 4270.5 983.3 4271.2 1000 4272C1033.3 4273.5 1066.7 4274.2 1100 4275C1166.7 4276.5 1233.3 4277.4 1300 4278C1400 4278.8 1500 4279.4 1600 4278.6C1625 4278.4 1650 4277.4 1675 4277.2C1750 4276.5 1825 4277.1 1900 4277.2C2012.2 4277.3 2124.4 4277.7 2236.6 4278" stroke="#000" stroke-width="7.8" stroke-dasharray="19.5 25.65"/>
<path d="M300 3545C313 3493.3 326.6 3441.8 339 3390C343 3373.4 346.3 3356.6 350.4 3340C352.6 3331.2 355 3322.5 357.4 3313.7C360.8 3301.3 363.7 3288.8 367.6 3276.5C370.4 3267.7 373.8 3259.1 376.9 3250.4C377.4 3262.2 378 3274 378.5 3285.8C379.9 3320.5 381.2 3355.3 382.2 3390C382.7 3406.7 382.9 3423.3 383.2 3440C383.5 3455.5 383.3 3471 383.8 3486.5C384.5 3507.1 385.4 3527.8 386.9 3548.4C388.1 3563.9 390 3579.4 391.5 3594.9C393.1 3610.4 394.6 3625.9 396.2 3641.4C397.7 3656.9 399.3 3672.4 400.8 3687.9C401.8 3698.2 402.6 3708.5 403.9 3718.8C405.2 3729.2 406.8 3739.5 408.6 3749.8C410.4 3760.2 412.2 3770.6 414.8 3780.8C416.9 3789.2 419.5 3797.5 422.5 3805.6C424.7 3811.6 427.1 3817.5 430 3823.2C432.7 3828.5 435.2 3834 439.3 3838.3C442.5 3841.7 447 3843.7 450.9 3846.4C455.6 3845.2 460.4 3844.7 464.9 3842.9C469.9 3840.9 474.7 3838.3 478.8 3834.8C483.4 3830.9 486.7 3825.6 490.4 3820.8C494.5 3815.5 497.9 3809.9 502 3804.6C505.7 3799.8 509.1 3794.6 513.7 3790.6C516.5 3788.2 519.6 3786.1 523 3784.8C525.2 3784 527.6 3784.1 529.9 3783.7C532.2 3785.6 534.8 3787.3 536.9 3789.5C540.5 3793.3 543.8 3797.6 546.2 3802.3C549.6 3808.8 551.1 3816.1 553.2 3823.2C555.9 3832.4 558 3841.8 560.1 3851.1C562.7 3862.6 564.8 3874.3 567.1 3885.9C569.4 3897.5 571.8 3909.2 574.1 3920.8C576.4 3932.4 578.9 3944 581.1 3955.6C582.6 3963.7 583.3 3972 585.3 3980C586.9 3986.3 589.3 3992.4 591.5 3998.6C594.4 4006.9 597 4015.4 600.8 4023.4C603.4 4028.8 606.1 4034.4 610.1 4038.9C613.6 4042.7 618.4 4045.1 622.5 4048.2C627.7 4048.2 632.8 4048.3 638 4048.2C643.2 4048.1 648.4 4046.8 653.5 4047.5C658.9 4048.3 664 4050.5 669 4052.8C674.5 4055.3 679.7 4058.5 684.5 4062.1C690.1 4066.2 695.2 4071 700 4076C704.5 4080.8 708.5 4086.2 712.4 4091.5C716.8 4097.5 720.9 4103.8 724.8 4110.1C729.2 4117.2 733.1 4124.6 737.2 4131.8C741.3 4139 745.2 4146.4 749.6 4153.5C753.5 4159.8 757.5 4166.1 761.9 4172.1C766.7 4178.6 772 4184.7 777.4 4190.7C783.3 4197.2 789.4 4203.6 796 4209.3C801.9 4214.4 808.1 4219 814.6 4223.2C821.6 4227.8 829 4231.7 836.3 4235.6C843.4 4239.4 850.5 4243.3 858 4246.5C865.2 4249.5 872.5 4252.1 880 4254.2C889 4256.8 898.2 4258.7 907.5 4260.2C920.3 4262.2 933.3 4263.1 946.2 4264.1C959.1 4265.1 972 4265.5 984.9 4266C1010.7 4267 1036.6 4267.2 1062.4 4267.9C1088.2 4268.5 1114 4269.1 1139.8 4269.9C1165.6 4270.7 1191.5 4271.8 1217.3 4272.6C1254.9 4273.7 1292.4 4274.5 1330 4275.4C1386.7 4276.8 1443.3 4278.7 1500 4279.5C1566.7 4280.4 1633.3 4279.9 1700 4280C1878.9 4280.2 2057.7 4280 2236.6 4280" stroke="#bfbfbf" stroke-width="11.8"/>
</g>
</g>
</svg>
</body>
</html>
